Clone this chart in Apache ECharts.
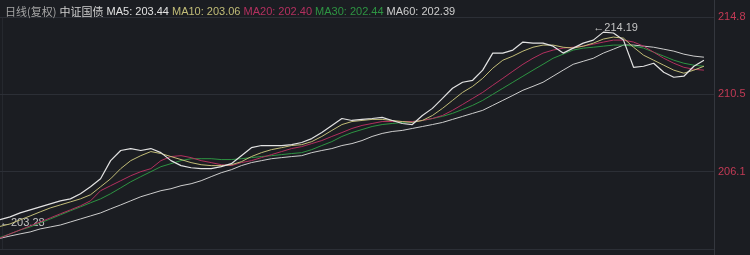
<!DOCTYPE html>
<html><head><meta charset="utf-8">
<script src="https://cdn.jsdelivr.net/npm/echarts@6/dist/echarts.min.js"></script>
<style>html,body{margin:0;padding:0;background:#1b1d22;}#c{width:750px;height:255px;}</style>
</head><body><div id="c"></div>
<script>
const ma5 = [203.44,203.60,203.82,203.99,204.16,204.33,204.50,204.61,204.90,205.29,205.74,206.76,207.33,207.44,207.33,207.44,207.21,206.76,206.48,206.36,206.31,206.31,206.42,206.59,207.04,207.49,207.61,207.61,207.61,207.66,207.78,208.00,208.34,208.74,209.13,209.02,209.08,209.13,209.19,209.02,208.85,208.79,209.30,209.70,210.26,210.83,211.17,211.28,211.85,212.81,212.81,212.98,213.43,213.37,213.37,213.20,212.81,213.09,213.37,213.54,213.99,213.94,213.54,212.01,212.07,212.24,211.73,211.45,211.51,212.07,212.41];
const ma10 = [203.06,203.20,203.43,203.65,203.88,204.10,204.27,204.44,204.61,204.84,205.29,205.74,206.31,206.76,207.04,207.27,207.16,206.99,206.82,206.65,206.53,206.48,206.48,206.53,206.70,206.99,207.21,207.38,207.49,207.61,207.66,207.83,208.12,208.46,208.79,208.96,209.02,209.08,209.08,209.02,208.96,208.91,209.02,209.30,209.70,210.15,210.60,210.94,211.39,211.96,212.41,212.64,212.92,213.14,213.26,213.26,213.14,213.09,213.20,213.37,213.60,213.71,213.65,213.14,212.69,212.41,212.13,211.85,211.68,211.85,212.07];
const ma20 = [202.40,202.64,202.86,203.09,203.31,203.54,203.77,203.99,204.22,204.50,205.07,205.35,205.63,205.91,206.14,206.31,206.76,206.99,207.04,206.93,206.76,206.65,206.53,206.48,206.65,206.76,206.93,207.10,207.27,207.44,207.55,207.72,207.89,208.12,208.34,208.57,208.74,208.85,208.96,208.96,208.96,208.96,209.02,209.13,209.30,209.59,209.92,210.26,210.60,211.00,211.39,211.79,212.18,212.52,212.81,212.98,213.09,213.14,213.20,213.31,213.43,213.54,213.54,213.43,213.20,212.86,212.52,212.24,212.01,211.90,211.85];
const ma30 = [202.44,202.64,202.86,203.03,203.26,203.48,203.71,203.94,204.16,204.39,204.61,204.90,205.23,205.57,205.86,206.14,206.42,206.59,206.76,206.87,206.87,206.87,206.82,206.82,206.87,206.93,206.99,207.04,207.10,207.16,207.21,207.38,207.61,207.83,208.12,208.34,208.51,208.68,208.79,208.85,208.91,208.96,209.02,209.13,209.25,209.42,209.64,209.87,210.15,210.49,210.83,211.17,211.51,211.85,212.18,212.52,212.75,212.98,213.09,213.14,213.20,213.26,213.26,213.20,213.09,212.86,212.64,212.41,212.24,212.13,212.07];
const ma60 = [202.39,202.52,202.64,202.75,202.92,203.03,203.14,203.31,203.48,203.65,203.82,204.05,204.27,204.50,204.73,204.90,205.07,205.18,205.35,205.46,205.63,205.86,206.08,206.25,206.48,206.65,206.76,206.87,206.93,206.99,207.04,207.21,207.33,207.44,207.61,207.72,207.89,208.12,208.29,208.40,208.46,208.57,208.68,208.79,208.91,209.08,209.25,209.42,209.59,209.87,210.15,210.43,210.72,210.94,211.17,211.51,211.85,212.18,212.35,212.52,212.81,213.03,213.26,213.26,213.20,213.14,213.03,212.92,212.75,212.64,212.58];
const maNames = ['MA5','MA10','MA20','MA30','MA60'];
const maColors = ['#e2e2e2','#c2bd78','#b3305f','#2e9443','#cdcdcd'];
const highVal = 214.19, highIdx = 60;
const lowVal = 203.28, lowIdx = 0;
const yMin = 201.79, yMax = 214.84, yStep = 4.35;
const titleLeft = '日线(复权)';
const titleName = '中证国债';

const all = [ma5, ma10, ma20, ma30, ma60];
const n = ma5.length + 1;
const cats = Array.from({length: n}, (_, i) => String(i));

const chart = echarts.init(document.getElementById('c'), null, {renderer: 'canvas'});
const rich = {
  a: {color: '#a5a5a5', fontSize: 11, fontWeight: 'normal', fontFamily: 'Noto Sans CJK SC'},
  b: {color: '#d0d0d0', fontSize: 11, fontWeight: 'normal', fontFamily: 'Noto Sans CJK SC'}
};
let txt = '{a|' + titleLeft + '} {b|' + titleName + '}';
maNames.forEach((nm, i) => {
  rich['m' + i] = {color: maColors[i], fontSize: 11, fontWeight: 'normal', fontFamily: 'Liberation Sans'};
  txt += ' {m' + i + '|' + nm + ': ' + all[i][0].toFixed(2) + '}';
});

const series = all.map((d, i) => ({
  type: 'line', name: maNames[i], data: d, showSymbol: false, symbol: 'none',
  lineStyle: {color: maColors[i], width: i === 0 ? 1.2 : 1},
  z: 10 - i, animation: false
}));
series[0].markPoint = {
  symbol: 'circle', symbolSize: 0, silent: true,
  label: {show: true, position: 'right', distance: 0, color: '#c4c4c4', fontSize: 11, fontFamily: 'Liberation Sans', formatter: p => '\u2190' + p.value.toFixed(2)},
  data: [
    {coord: [highIdx - 1, highVal + 0.05], value: highVal},
    {coord: [lowIdx, lowVal], value: lowVal}
  ]
};

chart.setOption({
  backgroundColor: '#1b1d22',
  animation: false,
  title: {text: txt, left: 0, top: 1, textStyle: {rich: rich, fontSize: 11, fontWeight: 'normal'}},
  grid: {left: 0, right: 36, top: 17, bottom: 6, containLabel: false},
  xAxis: {type: 'category', data: cats, boundaryGap: false,
    axisLine: {show: false}, axisTick: {show: false}, axisLabel: {show: false}, splitLine: {show: false}},
  yAxis: {type: 'value', position: 'right', min: yMin, max: yMax, interval: yStep,
    axisLine: {show: false},
    axisTick: {show: false},
    axisLabel: {color: '#c23a55', fontSize: 11, fontFamily: 'Liberation Sans', margin: 4,
      formatter: v => (Math.abs(v - yMin) < 0.01 ? '' : v.toFixed(1))},
    splitLine: {show: true, lineStyle: {color: '#2c2f36', width: 1}}
  },
  graphic: [
    {type: 'line', shape: {x1: 714.5, y1: 0, x2: 714.5, y2: 255}, style: {stroke: '#34373e', lineWidth: 1}, silent: true},
    {type: 'line', shape: {x1: 2.5, y1: 17, x2: 2.5, y2: 249}, style: {stroke: '#25282e', lineWidth: 1}, silent: true}
  ],
  series: series
});
</script></body></html>
